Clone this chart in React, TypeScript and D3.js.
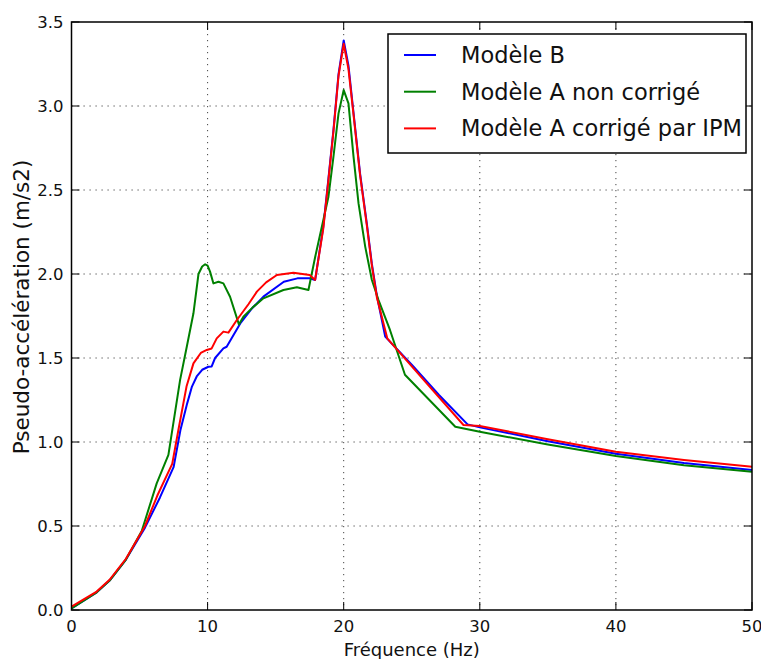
import React, { useEffect, useRef } from "react";
import * as d3 from "d3";

// Modèle B
const freqB = [0, 1.85, 2.8, 4.0, 5.4, 6.5, 7.5, 8.0, 8.5, 8.85, 9.2, 9.6, 10.06, 10.3, 10.55, 11.16, 11.4, 12.4, 13.2, 14.1, 15.6, 16.6, 17.5, 17.9, 18.5, 18.88, 19.25, 19.62, 20.0, 20.35, 20.72, 21.2, 21.7, 22.07, 22.44, 23.05, 25, 27, 29.1, 30, 35, 40, 45, 50];
const accB = [0.01, 0.105, 0.175, 0.3, 0.49, 0.67, 0.85, 1.07, 1.23, 1.33, 1.39, 1.43, 1.448, 1.45, 1.5, 1.557, 1.567, 1.706, 1.79, 1.865, 1.954, 1.974, 1.975, 1.964, 2.28, 2.57, 2.86, 3.19, 3.39, 3.24, 2.96, 2.6, 2.3, 2.06, 1.87, 1.627, 1.46, 1.28, 1.105, 1.087, 1.005, 0.93, 0.875, 0.833];

// Modèle A non corrigé
const freqA = [0, 1.85, 2.8, 4.0, 5.16, 6.26, 7.12, 7.98, 8.47, 8.96, 9.33, 9.6, 9.82, 10.0, 10.18, 10.43, 10.8, 11.16, 11.65, 12.3, 12.63, 13.3, 14.1, 15.57, 16.56, 17.41, 17.9, 18.5, 18.88, 19.25, 19.62, 20.0, 20.35, 20.72, 21.09, 21.58, 22.07, 22.56, 23.4, 24.5, 28.2, 30, 35, 40, 45, 50];
const accA = [0.01, 0.105, 0.175, 0.3, 0.47, 0.754, 0.923, 1.37, 1.567, 1.766, 2.0, 2.045, 2.058, 2.05, 2.014, 1.944, 1.954, 1.944, 1.865, 1.7, 1.746, 1.8, 1.855, 1.905, 1.921, 1.905, 2.1, 2.32, 2.46, 2.7, 2.956, 3.095, 3.016, 2.7, 2.42, 2.163, 1.964, 1.845, 1.667, 1.4, 1.091, 1.061, 0.985, 0.917, 0.862, 0.823];

// Modèle A corrigé par IPM
const freqIPM = [0, 1.85, 2.8, 4.0, 5.4, 6.3, 7.4, 7.85, 8.45, 8.96, 9.5, 9.94, 10.3, 10.67, 11.16, 11.53, 12.15, 13.0, 13.62, 14.3, 15.09, 16.3, 17.5, 17.9, 18.5, 18.88, 19.25, 19.62, 20.0, 20.35, 20.72, 21.2, 21.7, 22.07, 22.44, 23.2, 26.1, 28.8, 30, 35, 40, 45, 50];
const accIPM = [0.02, 0.11, 0.18, 0.305, 0.5, 0.68, 0.87, 1.07, 1.33, 1.468, 1.53, 1.548, 1.557, 1.617, 1.657, 1.651, 1.726, 1.82, 1.895, 1.95, 1.994, 2.008, 1.994, 1.965, 2.27, 2.56, 2.85, 3.18, 3.37, 3.22, 2.95, 2.59, 2.29, 2.05, 1.86, 1.617, 1.349, 1.101, 1.095, 1.017, 0.942, 0.893, 0.853];

const xTicks = [0, 10, 20, 30, 40, 50];
const yTicks = [0.0, 0.5, 1.0, 1.5, 2.0, 2.5, 3.0, 3.5];

const seriesNames = ["Modèle B", "Modèle A non corrigé", "Modèle A corrigé par IPM"];
const seriesColors = ["#0000ff", "#008000", "#ff0000"];

const FONT = "DejaVu Sans, sans-serif";

const App: React.FC = () => {
  const svgRef = useRef<SVGSVGElement | null>(null);

  useEffect(() => {
    if (!svgRef.current) return;
    const svg = d3.select(svgRef.current);
    svg.selectAll("*").remove();

    const margin = { top: 22, right: 9, bottom: 49, left: 71.5 };
    const width = 761;
    const height = 659;
    const innerWidth = width - margin.left - margin.right;
    const innerHeight = height - margin.top - margin.bottom;

    const x = d3.scaleLinear().domain([0, 50]).range([0, innerWidth]);
    const y = d3.scaleLinear().domain([0, 3.5]).range([innerHeight, 0]);

    svg.append("rect").attr("width", width).attr("height", height).attr("fill", "#fff");

    const g = svg.append("g").attr("transform", `translate(${margin.left},${margin.top})`);

    // dotted grid
    g.selectAll(".gx")
      .data(xTicks.slice(1, -1))
      .enter()
      .append("line")
      .attr("x1", d => x(d))
      .attr("x2", d => x(d))
      .attr("y1", 0)
      .attr("y2", innerHeight)
      .attr("stroke", "#444")
      .attr("stroke-width", 1)
      .attr("stroke-dasharray", "1.2,4.8");

    g.selectAll(".gy")
      .data(yTicks.slice(1, -1))
      .enter()
      .append("line")
      .attr("x1", 0)
      .attr("x2", innerWidth)
      .attr("y1", d => y(d))
      .attr("y2", d => y(d))
      .attr("stroke", "#444")
      .attr("stroke-width", 1)
      .attr("stroke-dasharray", "1.2,4.8");

    // curves
    const series = [
      { xs: freqB, ys: accB },
      { xs: freqA, ys: accA },
      { xs: freqIPM, ys: accIPM }
    ];
    const line = d3.line<[number, number]>()
      .x(d => x(d[0]))
      .y(d => y(d[1]));

    series.forEach((s, i) => {
      const pts = s.xs.map((v, k) => [v, s.ys[k]] as [number, number]);
      g.append("path")
        .datum(pts)
        .attr("d", line)
        .attr("fill", "none")
        .attr("stroke", seriesColors[i])
        .attr("stroke-width", 2)
        .attr("stroke-linejoin", "round");
    });

    // frame
    g.append("rect")
      .attr("width", innerWidth)
      .attr("height", innerHeight)
      .attr("fill", "none")
      .attr("stroke", "#000")
      .attr("stroke-width", 1.5);

    // inward ticks on all four sides
    const tickLen = 8;
    xTicks.forEach(t => {
      g.append("line").attr("x1", x(t)).attr("x2", x(t)).attr("y1", innerHeight).attr("y2", innerHeight - tickLen).attr("stroke", "#000");
      g.append("line").attr("x1", x(t)).attr("x2", x(t)).attr("y1", 0).attr("y2", tickLen).attr("stroke", "#000");
    });
    yTicks.forEach(t => {
      g.append("line").attr("x1", 0).attr("x2", tickLen).attr("y1", y(t)).attr("y2", y(t)).attr("stroke", "#000");
      g.append("line").attr("x1", innerWidth).attr("x2", innerWidth - tickLen).attr("y1", y(t)).attr("y2", y(t)).attr("stroke", "#000");
    });

    // tick labels
    g.selectAll(".xl")
      .data(xTicks)
      .enter()
      .append("text")
      .attr("x", d => x(d))
      .attr("y", innerHeight + 22)
      .attr("text-anchor", "middle")
      .attr("font-family", FONT)
      .attr("font-size", 16.5)
      .attr("fill", "#111")
      .text(d => String(d));

    g.selectAll(".yl")
      .data(yTicks)
      .enter()
      .append("text")
      .attr("x", -8)
      .attr("y", d => y(d) + 6)
      .attr("text-anchor", "end")
      .attr("font-family", FONT)
      .attr("font-size", 16.5)
      .attr("fill", "#111")
      .text(d => d.toFixed(1));

    // axis labels
    g.append("text")
      .attr("x", innerWidth / 2)
      .attr("y", innerHeight + 46)
      .attr("text-anchor", "middle")
      .attr("font-family", FONT)
      .attr("font-size", 18)
      .attr("fill", "#111")
      .text("Fréquence (Hz)");

    g.append("text")
      .attr("transform", `translate(${-margin.left + 29},${innerHeight / 2 - 9}) rotate(-90)`)
      .attr("text-anchor", "middle")
      .attr("font-family", FONT)
      .attr("font-size", 21.5)
      .attr("fill", "#111")
      .text("Pseudo-accélération (m/s2)");

    // legend
    const legend = svg.append("g").attr("transform", "translate(388,34)");
    legend.append("rect")
      .attr("width", 358)
      .attr("height", 119)
      .attr("fill", "#fff")
      .attr("stroke", "#000")
      .attr("stroke-width", 1.5);

    seriesNames.forEach((name, i) => {
      const ly = 21 + i * 36.7;
      legend.append("line")
        .attr("x1", 16)
        .attr("x2", 48)
        .attr("y1", ly)
        .attr("y2", ly)
        .attr("stroke", seriesColors[i])
        .attr("stroke-width", 2);
      legend.append("text")
        .attr("x", 73)
        .attr("y", ly + 8)
        .attr("font-family", FONT)
        .attr("font-size", 22.5)
        .attr("fill", "#111")
        .text(name);
    });
  }, []);

  return (
    <svg
      ref={svgRef}
      width={761}
      height={659}
      style={{ position: "absolute", left: 0, top: 0 }}
    />
  );
};

export default App;
